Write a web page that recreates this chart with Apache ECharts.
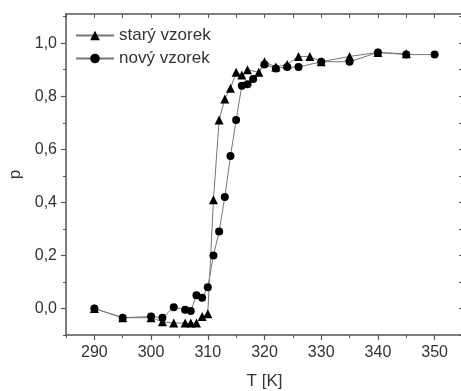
<!DOCTYPE html>
<html>
<head>
<meta charset="utf-8">
<script src="https://cdn.jsdelivr.net/npm/echarts@6/dist/echarts.min.js"></script>
<style>html,body{margin:0;padding:0;background:#fff}#c{width:461px;height:391px}</style>
</head>
<body>
<div id="c"></div>
<script>
// starý vzorek (triangles)
var stT = [290, 295, 300, 302, 304, 306, 307, 308, 309, 310, 311, 312, 313, 314, 315, 316, 317, 319, 320, 322, 324, 326, 328, 330, 335, 340, 345];
var stP = [0.0, -0.035, -0.035, -0.05, -0.055, -0.055, -0.055, -0.055, -0.03, -0.02, 0.41, 0.71, 0.79, 0.83, 0.89, 0.88, 0.90, 0.89, 0.93, 0.91, 0.92, 0.95, 0.95, 0.93, 0.95, 0.965, 0.96];
// nový vzorek (circles)
var novT = [290, 295, 300, 302, 304, 306, 307, 308, 309, 310, 311, 312, 313, 314, 315, 316, 317, 318, 320, 322, 324, 326, 330, 335, 340, 345, 350];
var novP = [0.0, -0.035, -0.03, -0.035, 0.005, -0.005, -0.01, 0.05, 0.04, 0.08, 0.2, 0.29, 0.42, 0.575, 0.71, 0.84, 0.845, 0.865, 0.92, 0.905, 0.91, 0.91, 0.93, 0.93, 0.965, 0.957, 0.957];
var xMajor = [290, 300, 310, 320, 330, 340, 350];
var xMinor = [285, 295, 305, 315, 325, 335, 345, 355];
var xAll = [285, 290, 295, 300, 305, 310, 315, 320, 325, 330, 335, 340, 345, 350, 355];
var yMajor = [0.0, 0.2, 0.4, 0.6, 0.8, 1.0];
var yMinor = [-0.1, 0.1, 0.3, 0.5, 0.7, 0.9, 1.1];
var yAll = [-0.1, 0.0, 0.1, 0.2, 0.3, 0.4, 0.5, 0.6, 0.7, 0.8, 0.9, 1.0, 1.1];
var names = ['starý vzorek', 'nový vzorek'];

function pairs(xs, ys) { return xs.map(function (x, i) { return [x, ys[i]]; }); }

var FONT = 'Liberation Sans, Arial, sans-serif';
var AX = '#555';
var TXT = '#333';
var YMIN = -0.1, YMAX = 1.11;
var gridRect = { left: 66, top: 14, width: 397, bottom: 56, containLabel: false, outerBoundsMode: 'none' };

var chart = echarts.init(document.getElementById('c'), null, { renderer: 'canvas' });
chart.setOption({
  animation: false,
  backgroundColor: '#fff',
  grid: [Object.assign({}, gridRect), Object.assign({}, gridRect)],
  legend: {
    left: 70, top: 22, orient: 'vertical',
    itemWidth: 38, itemHeight: 12, itemGap: 6,
    textStyle: { fontFamily: FONT, fontSize: 17, color: TXT },
    data: names
  },
  xAxis: [
    { gridIndex: 0, type: 'value', position: 'bottom', min: 285, max: 355,
      name: 'T [K]', nameLocation: 'middle', nameGap: 38,
      nameTextStyle: { fontFamily: FONT, fontSize: 17, color: TXT },
      axisLine: { show: true, onZero: false, lineStyle: { color: AX, width: 1.5 } },
      axisTick: { show: true, inside: false, length: 5, customValues: xMajor, lineStyle: { color: AX, width: 1.2 } },
      axisLabel: { customValues: xMajor, fontFamily: FONT, fontSize: 16, color: TXT, margin: 10 },
      splitLine: { show: false } },
    { gridIndex: 0, type: 'value', position: 'top', min: 285, max: 355,
      axisLine: { show: true, onZero: false, lineStyle: { color: AX, width: 1.5 } },
      axisTick: { show: true, inside: true, length: 4, customValues: xAll, lineStyle: { color: AX, width: 1 } },
      axisLabel: { show: false }, splitLine: { show: false } },
    { gridIndex: 1, type: 'value', position: 'bottom', min: 285, max: 355,
      axisLine: { show: false, onZero: false },
      axisTick: { show: true, inside: false, length: 3, customValues: xMinor, lineStyle: { color: AX, width: 1 } },
      axisLabel: { show: false }, splitLine: { show: false } }
  ],
  yAxis: [
    { gridIndex: 0, type: 'value', position: 'left', min: YMIN, max: YMAX,
      name: 'p', nameLocation: 'middle', nameGap: 42, nameRotate: 90,
      nameTextStyle: { fontFamily: FONT, fontSize: 17, color: TXT },
      axisLine: { show: true, onZero: false, lineStyle: { color: AX, width: 1.5 } },
      axisTick: { show: true, inside: false, length: 5, customValues: yMajor, lineStyle: { color: AX, width: 1.2 } },
      axisLabel: { customValues: yMajor, fontFamily: FONT, fontSize: 16, color: TXT, margin: 9,
        formatter: function (v) { return v.toFixed(1).replace('.', ','); } },
      splitLine: { show: false } },
    { gridIndex: 0, type: 'value', position: 'right', min: YMIN, max: YMAX,
      axisLine: { show: true, onZero: false, lineStyle: { color: AX, width: 1.5 } },
      axisTick: { show: true, inside: true, length: 4, customValues: yAll, lineStyle: { color: AX, width: 1 } },
      axisLabel: { show: false }, splitLine: { show: false } },
    { gridIndex: 1, type: 'value', position: 'left', min: YMIN, max: YMAX,
      axisLine: { show: false, onZero: false },
      axisTick: { show: true, inside: false, length: 3, customValues: yMinor, lineStyle: { color: AX, width: 1 } },
      axisLabel: { show: false }, splitLine: { show: false } }
  ],
  series: [
    { name: names[0], type: 'line', xAxisIndex: 0, yAxisIndex: 0,
      data: pairs(stT, stP), symbol: 'triangle', symbolSize: 9,
      lineStyle: { color: '#777', width: 1 }, itemStyle: { color: '#000' } },
    { name: names[1], type: 'line', xAxisIndex: 0, yAxisIndex: 0,
      data: pairs(novT, novP), symbol: 'circle', symbolSize: 8,
      lineStyle: { color: '#777', width: 1 }, itemStyle: { color: '#000' } }
  ]
});
</script>
</body>
</html>
